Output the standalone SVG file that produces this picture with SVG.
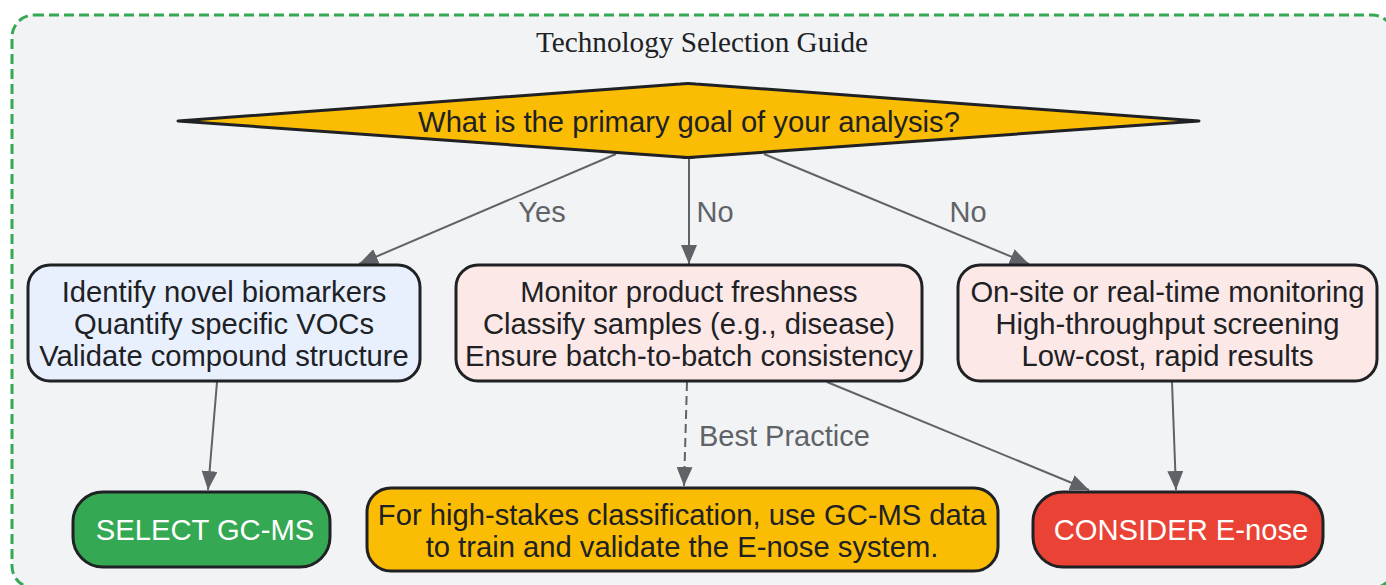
<svg xmlns="http://www.w3.org/2000/svg" width="1386" height="585" viewBox="0 0 1386 585">
<defs>
<style>
.t{font-family:"Liberation Sans",Arial,sans-serif;font-size:29.2px;fill:#202124;text-anchor:middle}
.w{fill:#ffffff}
.lbl{font-family:"Liberation Sans",Arial,sans-serif;font-size:29px;fill:#5f6368;text-anchor:middle}
.node{stroke:#202124;stroke-width:3}
.e{fill:none;stroke:#5f6368;stroke-width:2}
</style>
<marker id="ah" markerUnits="userSpaceOnUse" markerWidth="20" markerHeight="16" refX="19" refY="8" orient="auto">
<path d="M0,0 L19,8 L0,16 z" fill="#5f6368"/>
</marker>
</defs>
<rect x="0" y="0" width="1386" height="585" fill="#ffffff"/>
<g id="container">
<rect x="12" y="15" width="1382" height="573" rx="22" ry="22" fill="#f1f3f4" stroke="#34a853" stroke-width="3" stroke-dasharray="10 5"/>
<text x="702" y="52" style="font-family:'Liberation Serif','Times New Roman',serif;font-size:29.2px;fill:#202124;text-anchor:middle">Technology Selection Guide</text>
</g>
<g id="connectors">
<line class="e" x1="616" y1="154" x2="359" y2="264" marker-end="url(#ah)"/>
<line class="e" x1="689" y1="157" x2="689" y2="264" marker-end="url(#ah)"/>
<line class="e" x1="764" y1="154" x2="1029" y2="264" marker-end="url(#ah)"/>
<line class="e" x1="217" y1="382" x2="208" y2="490" marker-end="url(#ah)"/>
<line class="e" x1="687" y1="382" x2="684" y2="486" stroke-dasharray="9 5" marker-end="url(#ah)"/>
<line class="e" x1="827" y1="382" x2="1089" y2="490" marker-end="url(#ah)"/>
<line class="e" x1="1172" y1="382" x2="1176" y2="490" marker-end="url(#ah)"/>
<text class="lbl" x="542" y="222">Yes</text>
<text class="lbl" x="715" y="222">No</text>
<text class="lbl" x="968" y="222">No</text>
<text class="lbl" x="699" y="446" style="text-anchor:start">Best Practice</text>
</g>
<g id="decision">
<path class="node" d="M178,121 L680,84 Q688,83 696,84 L1199,121 L696,157 Q688,158 680,157 Z" fill="#fbbc04" stroke-linejoin="round"/>
<text class="t" x="689" y="132">What is the primary goal of your analysis?</text>
</g>
<g id="gcms-goals">
<rect class="node" x="28" y="265" width="392" height="116" rx="22" fill="#e8f0fe"/>
<text class="t" x="224" y="302">Identify novel biomarkers</text>
<text class="t" x="224" y="334">Quantify specific VOCs</text>
<text class="t" x="224" y="366">Validate compound structure</text>
</g>
<g id="both-goals">
<rect class="node" x="456" y="265" width="466" height="116" rx="22" fill="#fce8e6"/>
<text class="t" x="689" y="302">Monitor product freshness</text>
<text class="t" x="689" y="334">Classify samples (e.g., disease)</text>
<text class="t" x="689" y="366">Ensure batch-to-batch consistency</text>
</g>
<g id="enose-goals">
<rect class="node" x="958" y="265" width="419" height="116" rx="22" fill="#fce8e6"/>
<text class="t" x="1167.5" y="302">On-site or real-time monitoring</text>
<text class="t" x="1167.5" y="334">High-throughput screening</text>
<text class="t" x="1167.5" y="366">Low-cost, rapid results</text>
</g>
<g id="select-gcms">
<rect class="node" x="73" y="492" width="257" height="75" rx="30" fill="#34a853"/>
<text class="t w" x="205" y="540">SELECT GC-MS</text>
</g>
<g id="best-practice">
<rect class="node" x="367" y="488" width="631" height="83" rx="24" fill="#fbbc04"/>
<text class="t" x="682" y="525">For high-stakes classification, use GC-MS data</text>
<text class="t" x="682" y="557">to train and validate the E-nose system.</text>
</g>
<g id="consider-enose">
<rect class="node" x="1033" y="492" width="290" height="75" rx="30" fill="#ea4335"/>
<text class="t w" x="1181" y="540">CONSIDER E-nose</text>
</g>
</svg>
